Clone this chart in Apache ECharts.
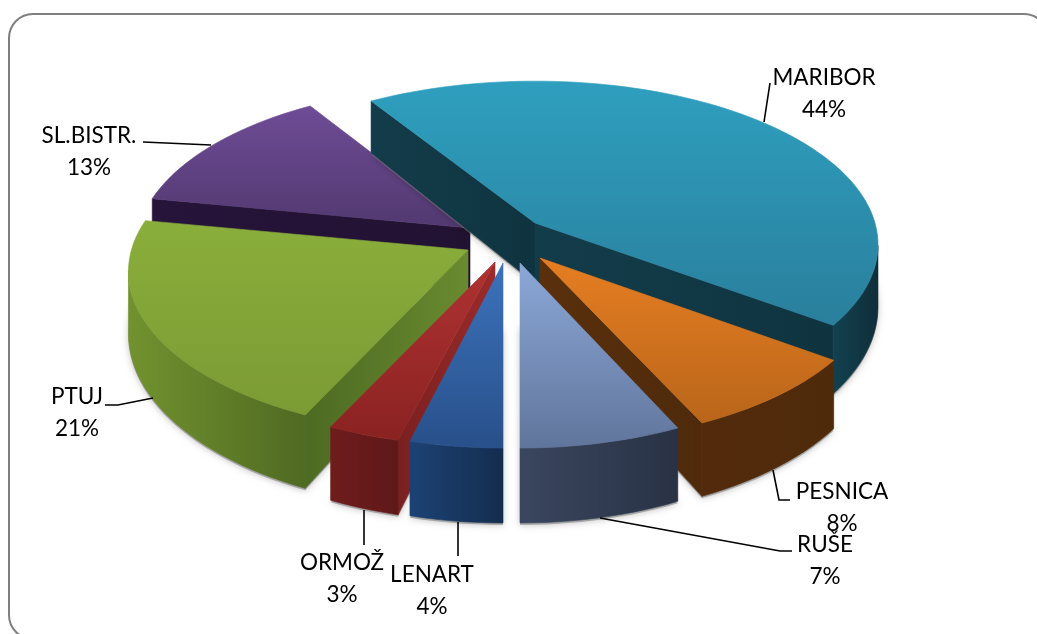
<!DOCTYPE html>
<html><head><meta charset="utf-8">
<style>html,body{margin:0;padding:0;background:#fff}#c{width:1037px;height:634px}</style>
<script src="https://cdn.jsdelivr.net/npm/echarts@6/dist/echarts.min.js"></script>
</head><body><div id="c"></div>
<script>
var names = ['MARIBOR','PESNICA','RUŠE','LENART','ORMOŽ','PTUJ','SL.BISTR.'];
var values = [44,8,7,4,3,21,13];
var apexX = [535,540,520,503,495,468,470];
var apexY = [223,258,263,263,262,250,228];
var scaleX = [1,0.985,0.96,0.96,1,0.99,0.975];
var topColors = [['#2f9fbf','#297f9c'],['#e67e22','#b9651a'],['#8ca8d8','#60759b'],['#3c72bc','#28508a'],['#b03232','#8a2222'],['#8aae3b','#7b9b34'],['#6f4c96','#523970']];
var wallColors = [['#12414f','#0f2e3a'],['#532b0c','#4e2a0b'],['#3a465f','#293245'],['#1c4274','#142d4e'],['#6f1c1c','#5f1818'],['#72922f','#4f6a22'],['#26143a','#26143a']];
var radialColors = [['#133c4a','#0f3440'],['#5a300d','#4e2a0b'],['#3a465f','#3a465f'],['#1c4274','#1c4274'],['#7a2020','#9c2a2a'],['#4d6a22','#6a8a30'],['#26143a','#221232']];
var drawOrder = [6,0,1,5,4,2,3];
var labelPos = [[824,78],[842,492],[825,545],[432,575],[342,563],[77,397],[89,136]];
var leaders = [[[770,83],[764,122]],[[773,470],[779,500],[790,500]],[[600,518],[780,551],[792,551]],[[458,522],[458,556]],[[364,510],[364,545]],[[105,405],[118,405],[153,398]],[[143,142],[211,145]]];

var startDeg = 180 - 360*(44+8+7)/100, B = 340, A = 160.6, P = 0.132, D = 60.6;
var total = values.reduce(function(a,b){return a+b},0);
function project(i,deg){
  var t = deg*Math.PI/180, u = Math.sin(t), v = -Math.cos(t), s = 1/(1-P*v);
  return {x:apexX[i]+B*scaleX[i]*u*s, y:apexY[i]+A*v*s, d:D*Math.pow(s,1.5)};
}
function apexPoint(i){return {x:apexX[i],y:apexY[i],d:D};}
function lin(x,y,x2,y2,c){return {type:'linear',x:x,y:y,x2:x2,y2:y2,global:true,colorStops:[{offset:0,color:c[0]},{offset:1,color:c[1]}]};}
function poly(pts,fill,extra){
  return {type:'polygon',shape:{points:pts},style:Object.assign({fill:fill,stroke:fill,lineWidth:0.6},extra||{})};
}
function renderSlice(params){
  var i = drawOrder[params.dataIndex];
  var before = 0; for (var k=0;k<i;k++) before += values[k];
  var a0 = startDeg + before/total*360, a1 = a0 + values[i]/total*360;
  var steps = Math.max(6,Math.round((a1-a0)/2)), arc = [];
  for (var n=0;n<=steps;n++) arc.push(project(i,a0+(a1-a0)*n/steps));
  var ap = apexPoint(i), ring = [ap].concat(arc);
  var xs = ring.map(function(p){return p.x}), ys = ring.map(function(p){return p.y});
  var minX = Math.min.apply(null,xs), maxX = Math.max.apply(null,xs), minY = Math.min.apply(null,ys), maxY = Math.max.apply(null,ys);
  var kids = [];
  var shadow = ring.map(function(p){return [p.x,p.y+p.d+2]});
  kids.push({type:'polygon',shape:{points:shadow},style:{fill:'rgba(120,120,120,0.55)',shadowBlur:7,shadowColor:'rgba(0,0,0,0.45)'}});
  function radial(p,q){
    if (q.x-p.x >= -0.5) return;
    kids.push(poly([[p.x,p.y],[q.x,q.y],[q.x,q.y+q.d],[p.x,p.y+p.d]],lin(Math.min(p.x,q.x),0,Math.max(p.x,q.x),0,radialColors[i])));
  }
  radial(ap,arc[0]);
  radial(arc[arc.length-1],ap);
  var run = [];
  for (var m=0;m<arc.length-1;m++) if (arc[m+1].x < arc[m].x) { if(!run.length) run.push(arc[m]); run.push(arc[m+1]); }
  if (run.length) {
    var rx = run.map(function(p){return p.x});
    var wall = run.map(function(p){return [p.x,p.y]}).concat(run.slice().reverse().map(function(p){return [p.x,p.y+p.d]}));
    kids.push(poly(wall,lin(Math.min.apply(null,rx),0,Math.max.apply(null,rx),0,wallColors[i])));
  }
  kids.push(poly(ring.map(function(p){return [p.x,p.y]}),lin(0,minY,0,maxY,topColors[i])));
  return {type:'group',children:kids};
}
var graphics = [{type:'rect',shape:{x:9,y:14,width:1039,height:625,r:24},style:{fill:'none',stroke:'#7f7f7f',lineWidth:2},z:0}];
names.forEach(function(nm,i){
  graphics.push({type:'polyline',shape:{points:leaders[i]},style:{fill:'none',stroke:'#000',lineWidth:1.6},z:5});
  graphics.push({type:'text',x:labelPos[i][0],y:labelPos[i][1],style:{text:nm,fill:'#000',font:'22.5px Lato, "Open Sans", sans-serif',textAlign:'center',textVerticalAlign:'middle'},z:6});
  graphics.push({type:'text',x:labelPos[i][0],y:labelPos[i][1]+32,style:{text:values[i]+'%',fill:'#000',font:'22.5px Lato, "Open Sans", sans-serif',textAlign:'center',textVerticalAlign:'middle'},z:6});
});
var chart = echarts.init(document.getElementById('c'));
chart.setOption({
  animation:false,
  backgroundColor:'#fff',
  graphic:graphics,
  series:[{type:'custom',coordinateSystem:'none',renderItem:renderSlice,data:drawOrder.map(function(d){return [d,values[d]]}),silent:true,clip:false,z:2}]
});
</script></body></html>
